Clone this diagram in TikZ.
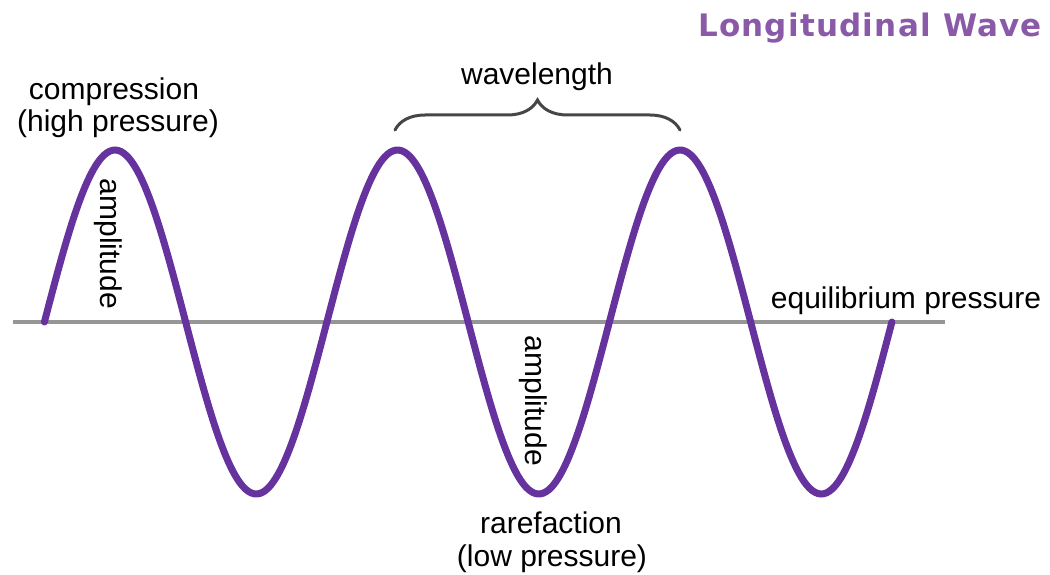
\documentclass[tikz,border=0pt]{standalone}
\usepackage{fontspec}
\setmainfont{Liberation Sans}
\newfontfamily\titlefont[LetterSpace=4]{DejaVu Sans}
\usetikzlibrary{decorations.pathreplacing}
\definecolor{wavepurple}{RGB}{102,51,158}
\definecolor{titlepurple}{RGB}{138,90,168}
\definecolor{axisgray}{RGB}{150,150,150}
\definecolor{bracegray}{RGB}{70,70,70}
\begin{document}
\begin{tikzpicture}[x=1pt,y=-1pt,
  lbl/.style={font=\fontsize{30}{34}\selectfont, inner sep=0pt, anchor=base, text=black},
  rlbl/.style={font=\fontsize{30}{34}\selectfont, inner sep=0pt, anchor=center, rotate=-90, text=black},
  wave/.style={draw=wavepurple, line width=7pt, line cap=round},
  axisline/.style={draw=axisgray, line width=4pt},
  bracestyle/.style={draw=bracegray, line width=3pt, line cap=round, decorate, decoration={brace, amplitude=30pt}}]
\useasboundingbox (0,0) rectangle (1050,575);
% equilibrium axis
\coordinate (axL) at (13,322);
\coordinate (axR) at (945,322);
\draw[axisline] (axL) -- (axR);
% wave
\draw[wave] plot[domain=44.4:891.9, samples=300, smooth] (\x, {322-172*sin((\x-44.4)/282.5*360)});
% brace
\coordinate (brL) at (395,130);
\coordinate (brR) at (680,130);
\draw[bracestyle] (brL) -- (brR);
% labels
\node[font=\titlefont\bfseries\fontsize{31}{33}\selectfont, text=titlepurple, anchor=base, inner sep=0pt] (title) at (870,37) {Longitudinal Wave};
\node[lbl] (comp1) at (114,100) {compression};
\node[lbl] (comp2) at (118,132) {(high pressure)};
\node[lbl] (wl) at (537,85) {wavelength};
\node[lbl] (eq) at (906,308) {equilibrium pressure};
\node[lbl] (rar1) at (551,533) {rarefaction};
\node[lbl] (rar2) at (552,566) {(low pressure)};
\node[rlbl] (amp1) at (108,244) {amplitude};
\node[rlbl] (amp2) at (533,401) {amplitude};
\end{tikzpicture}
\end{document}
